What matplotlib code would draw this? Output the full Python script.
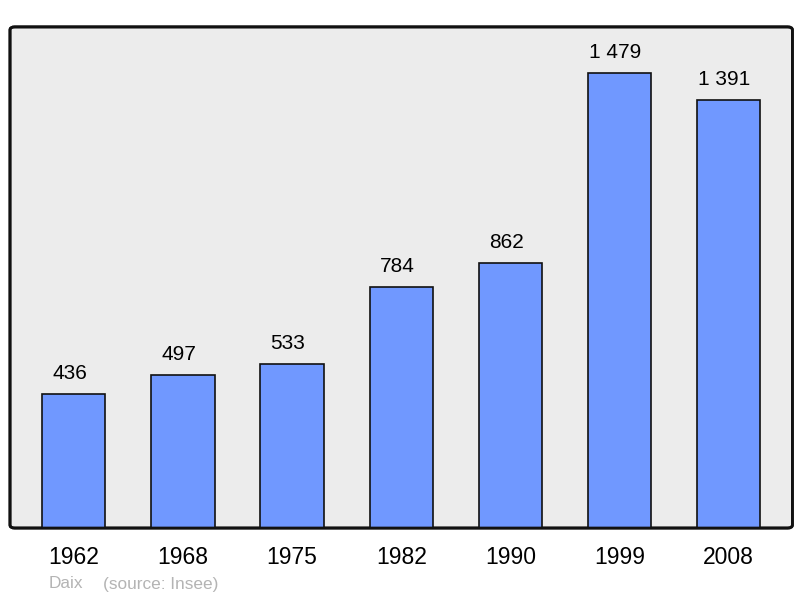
import matplotlib.pyplot as plt
from matplotlib.patches import FancyBboxPatch

years = ['1962', '1968', '1975', '1982', '1990', '1999', '2008']
population = [436, 497, 533, 784, 862, 1479, 1391]

plt.rcParams['font.family'] = ['Liberation Sans', 'DejaVu Sans']

fig = plt.figure(figsize=(8, 5.98), dpi=100)
ax = fig.add_axes([0.0125, 0.117, 0.978, 0.838])
ax.set_facecolor('none')

x = range(len(years))
ax.bar(x, population, width=0.58, color='#7098ff', edgecolor='#111111', linewidth=1.2, zorder=2)

# value labels sit a little left of bar centre in the original
for xi, v in zip(x, population):
    label = '{:,}'.format(v).replace(',', ' ')
    ax.annotate(label, (xi, v), xytext=(-3, 8), textcoords='offset points',
                ha='center', va='bottom', fontsize=15)

ax.set_xlim(-0.585, 6.585)
ax.set_ylim(0, 1629)
ax.set_xticks(list(x))
ax.set_xticklabels(years, fontsize=16.5)
ax.tick_params(axis='x', length=0, pad=13)
ax.set_yticks([])
for s in ax.spines.values():
    s.set_visible(False)

frame = FancyBboxPatch((0, 0), 1, 1, boxstyle='round,pad=0,rounding_size=0.006',
                       transform=ax.transAxes, facecolor='#ececec',
                       edgecolor='#111111', linewidth=2, zorder=0, clip_on=False)
ax.add_patch(frame)
border = FancyBboxPatch((0, 0), 1, 1, boxstyle='round,pad=0,rounding_size=0.006',
                        transform=ax.transAxes, facecolor='none',
                        edgecolor='#111111', linewidth=2, zorder=3, clip_on=False)
ax.add_patch(border)

fig.text(49 / 800, 1 - 584 / 598, 'Daix', color='#b4b4b4', fontsize=12.4, va='center')
fig.text(103 / 800, 1 - 584 / 598, '(source: Insee)', color='#b4b4b4', fontsize=12.4, va='center')

fig.savefig('out.png', dpi=100)
